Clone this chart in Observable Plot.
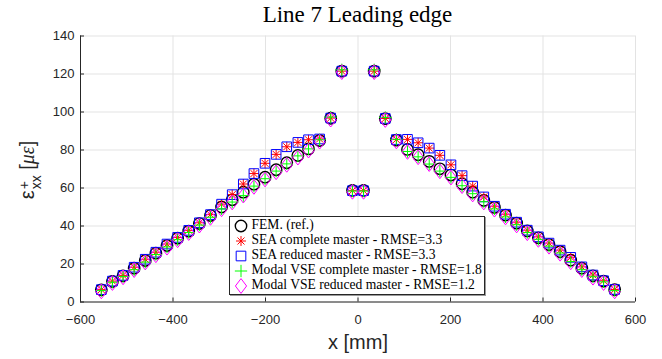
<!DOCTYPE html>
<html>
<head>
<meta charset="utf-8">
<script src="https://cdn.jsdelivr.net/npm/d3@7"></script>
<script src="https://cdn.jsdelivr.net/npm/@observablehq/plot@0.6"></script>
<style>
  body { margin: 0; background: #fff; }
  #wrap { position: relative; width: 662px; height: 359px; overflow: hidden; background: #fff; }
  #chart { position: absolute; left: 0; top: 20px; }
  #title { position: absolute; left: 80px; width: 555px; top: 1px; text-align: center; z-index: 2;
           font-family: "Liberation Serif", serif; font-size: 23px; color: #000; line-height: 28px; }
  #ylab { position: absolute; left: 29px; top: 170px; transform: translate(-50%, -50%) rotate(-90deg);
          white-space: nowrap; font-family: "Liberation Sans", Arial, sans-serif; font-size: 20px; color: #262626; }
  #ylab .ss { display: inline-block; vertical-align: -7px; line-height: 12px; font-size: 14px; margin-left: 1px; }
  #ylab .ss span { display: block; }
  #ylab i { font-family: "Liberation Serif", serif; }
  #legend { position: absolute; left: 229px; top: 216px; width: 254px; height: 77px; border: 1px solid #262626;
            background: #fff; box-shadow: 1px 1px 0 #9a9a9a; z-index: 2; }
  .row { position: absolute; left: 0; height: 15px; }
  .row svg { position: absolute; left: 3px; top: 0; }
  .row span { position: absolute; left: 21.5px; top: -1px; white-space: nowrap; font-family: "Liberation Serif", serif;
              font-size: 13.6px; line-height: 16px; color: #000; }
</style>
</head>
<body>
<div id="wrap">
  <div id="chart"></div>
  <div id="title">Line 7 Leading edge</div>
  <div id="ylab">ε<span class="ss"><span>+</span><span>xx</span></span> [<i>με</i>]</div>
  <div id="legend"></div>
</div>
<script>
// ---- data ----
const xPos = [-555,-531,-508,-484,-460,-437,-413,-390,-366,-343,-319,-295,-272,-248,-225,-201,-177,-154,-130,-107,-83,-59,-35,-12,
              12,35,59,83,107,130,154,177,201,225,248,272,295,319,343,366,390,413,437,460,484,508,531,555];
const fem = [6.4,10.8,13.8,17.8,21.8,25.7,29.7,33.6,37.3,41.3,45.5,50.0,53.8,57.8,62.0,65.7,69.6,73.3,77.1,80.6,85.0,96.7,121.5,58.7,
             58.7,121.5,96.5,85.2,80.3,77.5,74.0,70.1,66.8,62.2,57.8,53.5,49.8,45.7,41.5,37.4,33.8,30.2,26.5,22.0,17.8,13.8,11.0,6.5];
const seaComplete = [6.5,11.0,14.0,18.3,22.5,26.2,30.5,34.0,37.7,41.7,46.0,51.5,56.5,62.1,67.6,73.0,77.7,81.7,84.0,85.4,85.8,96.8,121.5,58.6,
                     58.6,121.5,96.6,85.5,85.6,83.8,81.0,77.2,72.2,66.5,61.0,55.3,50.4,46.2,42.0,37.8,34.3,31.0,27.3,23.5,18.5,14.2,11.2,6.6];
const seaReduced = [6.5,11.0,14.0,18.3,22.5,26.2,30.5,34.0,37.7,41.7,46.0,51.5,56.5,62.1,67.6,73.0,77.7,81.7,84.0,85.4,85.8,96.8,121.5,58.6,
                    58.6,121.5,96.6,85.5,85.6,83.8,81.0,77.2,72.2,66.5,61.0,55.3,50.4,46.2,42.0,37.8,34.3,31.0,27.3,23.5,18.5,14.2,11.2,6.6];
const modalComplete = [6.0,10.4,13.4,17.0,21.0,25.0,29.0,32.8,36.6,40.5,44.6,49.0,52.6,56.0,61.0,64.9,68.9,72.7,76.9,80.6,85.4,97.3,122.2,58.4,
                       58.4,122.2,97.1,85.6,79.2,76.4,72.6,68.9,65.6,61.2,57.0,52.8,49.0,44.8,40.7,36.6,33.0,29.4,25.8,21.3,17.0,13.3,10.6,6.0];
const modalReduced = [5.6,10.0,13.0,16.8,20.8,24.6,28.6,32.5,36.3,40.2,44.3,48.8,52.4,56.0,60.6,64.5,68.3,72.2,76.0,79.7,84.4,96.0,121.0,58.0,
                      58.0,121.0,95.8,84.5,79.0,76.2,72.6,68.8,65.5,61.0,56.6,52.4,48.6,44.5,40.3,36.2,32.7,29.1,25.4,20.9,16.8,12.8,10.0,5.6];
const xTicks = [-600,-400,-200,0,200,400,600];
const yTicks = [0,20,40,60,80,100,120,140];
const seriesNames = ["FEM. (ref.)", "SEA complete master - RMSE=3.3", "SEA reduced master - RMSE=3.3",
                     "Modal VSE complete master - RMSE=1.8", "Modal VSE reduced master - RMSE=1.2"];

// ---- custom MATLAB-like marker symbols ----
const symAsterisk = { draw(c, size) { const r = Math.sqrt(size / Math.PI) * 0.92, d = r * Math.SQRT1_2;
  c.moveTo(0, -r); c.lineTo(0, r); c.moveTo(-r, 0); c.lineTo(r, 0);
  c.moveTo(-d, -d); c.lineTo(d, d); c.moveTo(-d, d); c.lineTo(d, -d); } };
const symSquare = { draw(c, size) { const h = Math.sqrt(size / Math.PI) * 0.86;
  c.moveTo(-h, -h); c.lineTo(h, -h); c.lineTo(h, h); c.lineTo(-h, h); c.closePath(); } };
const symPlus = { draw(c, size) { const r = Math.sqrt(size / Math.PI) * 1.1;
  c.moveTo(0, -r); c.lineTo(0, r); c.moveTo(-r, 0); c.lineTo(r, 0); } };
const symDiamond = { draw(c, size) { const r = Math.sqrt(size / Math.PI), w = r * 1.0, h = r * 1.32;
  c.moveTo(0, -h); c.lineTo(w, 0); c.lineTo(0, h); c.lineTo(-w, 0); c.closePath(); } };

const styles = [
  { symbol: "circle", stroke: "#000000", strokeWidth: 1.4, r: 5.7 },
  { symbol: symAsterisk, stroke: "#ff0000", strokeWidth: 1, r: 5.4 },
  { symbol: symSquare, stroke: "#0000ff", strokeWidth: 1, r: 5.6 },
  { symbol: symPlus, stroke: "#00ff00", strokeWidth: 1, r: 5.6 },
  { symbol: symDiamond, stroke: "#ff00ff", strokeWidth: 1, r: 5.6 }
];
const seriesData = [fem, seaComplete, seaReduced, modalComplete, modalReduced];

const tableOf = (vals) => xPos.map((x, i) => ({ x, y: vals[i] }));

const plot = Plot.plot({
  width: 662,
  height: 339,
  marginLeft: 80,
  marginRight: 27,
  marginTop: 15.5,
  marginBottom: 57.5,
  style: { fontFamily: "'Liberation Sans', Arial, sans-serif", fontSize: "13px", color: "#262626", background: "transparent" },
  x: { domain: [-600, 600] },
  y: { domain: [0, 140] },
  marks: [
    Plot.gridX(xTicks, { stroke: "#e3e3e3", strokeOpacity: 1 }),
    Plot.gridY(yTicks, { stroke: "#e3e3e3", strokeOpacity: 1 }),
    Plot.ruleY([0], { stroke: "#262626", strokeWidth: 1 }),
    Plot.ruleX([-600], { stroke: "#262626", strokeWidth: 1 }),
    Plot.axisX(xTicks, { tickSize: -4, tickPadding: 17, label: null, stroke: "#262626", fill: "#262626", fontSize: 13 }),
    Plot.axisY(yTicks, { tickSize: -4, tickPadding: 10, label: null, stroke: "#262626", fill: "#262626", fontSize: 13 }),
    ...seriesData.map((vals, i) => Plot.dot(tableOf(vals), { x: "x", y: "y", fill: "none", ...styles[i] })),
    Plot.text(["x [mm]"], { frameAnchor: "bottom", lineAnchor: "middle", dy: 41, fontSize: 20, fill: "#262626" })
  ]
});
document.getElementById("chart").appendChild(plot);

// ---- legend ----
const legend = document.getElementById("legend");
seriesNames.forEach((name, i) => {
  const row = document.createElement("div");
  row.className = "row";
  row.style.top = (1 + 15 * i) + "px";
  const s = styles[i];
  const type = typeof s.symbol === "string" ? d3.symbolCircle : s.symbol;
  const path = d3.symbol(type, Math.PI * s.r * s.r)();
  row.innerHTML = `<svg width="16" height="16" viewBox="-8 -8 16 16"><path d="${path}" fill="none" stroke="${s.stroke}" stroke-width="${s.strokeWidth}"/></svg><span>${name}</span>`;
  legend.appendChild(row);
});
</script>
</body>
</html>
